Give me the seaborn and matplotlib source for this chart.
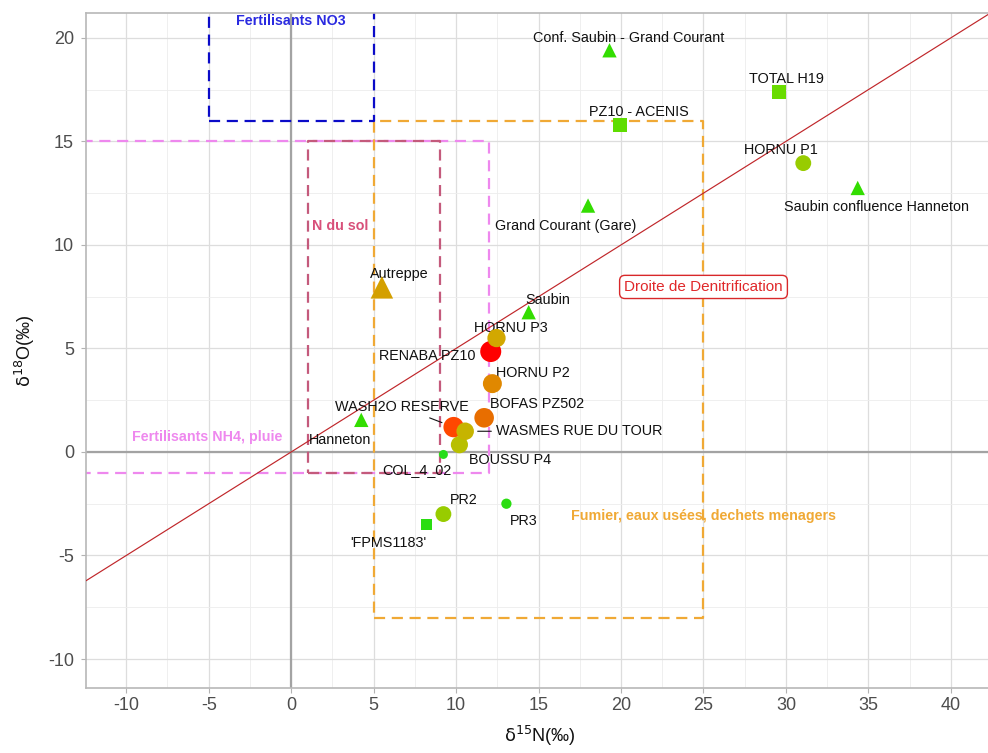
import matplotlib
matplotlib.use("Agg")
import matplotlib.pyplot as plt
from matplotlib.colors import LinearSegmentedColormap, Normalize, PowerNorm
from matplotlib.patches import Rectangle
from matplotlib.ticker import MultipleLocator
import pandas as pd
import seaborn as sns

# ---- sampling points -------------------------------------------------------
sites = ["Conf. Saubin - Grand Courant", "TOTAL H19", "PZ10 - ACENIS", "HORNU P1",
         "Saubin confluence Hanneton", "Grand Courant (Gare)", "Saubin", "Autreppe",
         "RENABA PZ10", "HORNU P3", "HORNU P2", "BOFAS PZ502", "WASH2O RESERVE",
         "BOUSSU P4", "WASMES RUE DU TOUR", "COL_4_02", "Hanneton", "PR2", "PR3",
         "'FPMS1183'"]
d15n = [19.3, 29.6, 19.95, 31.05, 34.35, 18.0, 14.4, 5.5,
        12.1, 12.45, 12.2, 11.7, 9.85, 10.2, 10.55, 9.23, 4.25, 9.23, 13.05, 8.2]
d18o = [19.4, 17.4, 15.8, 13.95, 12.75, 11.9, 6.75, 7.95,
        4.85, 5.5, 3.3, 1.65, 1.2, 0.35, 1.0, -0.12, 1.55, -3.0, -2.5, -3.5]
no3 = [8, 17, 15, 30, 8, 8, 8, 58,
       100, 55, 65, 74, 88, 42, 46, 2, 8, 30, 4, 4]
site_type = ["Eau de surface", "Forage", "Forage", "Piézomètre",
             "Eau de surface", "Eau de surface", "Eau de surface", "Eau de surface",
             "Piézomètre", "Piézomètre", "Piézomètre", "Piézomètre", "Piézomètre",
             "Piézomètre", "Piézomètre", "Piézomètre", "Eau de surface", "Piézomètre",
             "Piézomètre", "Forage"]

# ---- nitrate source domains -------------------------------------------------
domain_names = ["Fertilisants NH4, pluie", "N du sol",
                "Fumier, eaux usées, dechets menagers", "Fertilisants NO3"]
domain_x = [(-15, 12), (1, 9), (5, 25), (-5, 5)]
domain_y = [(-1, 15), (-1, 15), (-8, 16), (16, 23)]

# denitrification line: d18O = 0.5 * d15N
denit_slope = 0.5

# ---- styling ----------------------------------------------------------------
domain_style = {
    "Fertilisants NH4, pluie": dict(color="#EE88EE", label_xy=(-5.1, 0.72)),
    "N du sol": dict(color="#C45A7C", label_xy=(3.0, 10.9), text_color="#D8507A"),
    "Fumier, eaux usées, dechets menagers": dict(color="#F0A935", label_xy=(25.0, -3.1)),
    "Fertilisants NO3": dict(color="#0B0BC8", label_xy=(0.0, 20.82), text_color="#2A2AE0"),
}

# label offsets (pixels) relative to each point
label_offsets = {
    "Conf. Saubin - Grand Courant": (19, 12),
    "TOTAL H19": (7, 13),
    "PZ10 - ACENIS": (19, 13),
    "HORNU P1": (-22, 13),
    "Saubin confluence Hanneton": (19, -19),
    "Grand Courant (Gare)": (-22, -20),
    "Saubin": (19, 12),
    "Autreppe": (17, 13),
    "RENABA PZ10": (-64, -4),
    "HORNU P3": (14, 10),
    "HORNU P2": (40, 11),
    "BOFAS PZ502": (53, 14),
    "WASH2O RESERVE": (-52, 20),
    "BOUSSU P4": (51, -15),
    "WASMES RUE DU TOUR": (114, 0),
    "COL_4_02": (-27, -16),
    "Hanneton": (-21, -20),
    "PR2": (20, 14),
    "PR3": (17, -17),
    "'FPMS1183'": (-38, -19),
}
with_segment = {"WASH2O RESERVE", "WASMES RUE DU TOUR"}

nitrate_cmap = LinearSegmentedColormap.from_list(
    "nitrate",
    [(0.00, "#22DD22"), (0.08, "#33DD00"), (0.16, "#66DD00"), (0.30, "#99CC00"),
     (0.42, "#B8BF00"), (0.46, "#C6B400"), (0.55, "#D2A800"), (0.58, "#D4A000"),
     (0.65, "#E08800"), (0.74, "#E86E00"), (0.88, "#FF4800"), (1.00, "#FF0000")])
marker_map = {"Piézomètre": "o", "Forage": "s", "Eau de surface": "^"}

sns.set_theme(style="whitegrid")
plt.rcParams["font.family"] = ["Liberation Sans", "DejaVu Sans"]
plt.rcParams["mathtext.fontset"] = "dejavusans"
narrow = ["Liberation Sans Narrow", "Liberation Sans", "DejaVu Sans"]

df = pd.DataFrame({"site": sites, "d15N": d15n, "d18O": d18o,
                   "NO3": no3, "type": site_type})

fig = plt.figure(figsize=(9.88, 7.53), dpi=100)
ax = fig.add_axes([86 / 988, 65 / 753, 902 / 988, 675 / 753])
ax.set_facecolor("white")

xlim = (-12.44, 42.25)
ylim = (-11.4, 21.2)
ax.set_xlim(*xlim)
ax.set_ylim(*ylim)

# grid
ax.xaxis.set_minor_locator(MultipleLocator(2.5))
ax.yaxis.set_minor_locator(MultipleLocator(2.5))
xt = list(range(-10, 41, 5))
yt = list(range(-10, 21, 5))
ax.set_xticks(xt)
ax.set_xticklabels([str(v) for v in xt], fontfamily=narrow, fontsize=13, color="#4D4D4D")
ax.set_yticks(yt)
ax.set_yticklabels([str(v) for v in yt], fontfamily=narrow, fontsize=13, color="#4D4D4D")
ax.grid(which="major", color="#DDDDDD", lw=0.9)
ax.grid(which="minor", color="#EDEDED", lw=0.6)
ax.set_axisbelow(True)
ax.tick_params(which="major", length=3.6, width=0.8, color="#B3B3B3",
               direction="out", bottom=True, left=True)
ax.tick_params(axis="x", pad=3)
ax.tick_params(axis="y", pad=5)
ax.tick_params(which="minor", length=0)
for side in ["top", "bottom", "left"]:
    ax.spines[side].set_color("#B8B8B8")
    ax.spines[side].set_linewidth(1.2)
ax.spines["right"].set_visible(False)

# zero reference lines
ax.axvline(0, color="#A3A3A3", lw=1.6, zorder=2)
ax.axhline(0, color="#A3A3A3", lw=1.6, zorder=2)

# source domains
for name, (x0, x1), (y0, y1) in zip(domain_names, domain_x, domain_y):
    st = domain_style[name]
    ax.add_patch(Rectangle((x0, y0), x1 - x0, y1 - y0, fill=False,
                           edgecolor=st["color"], lw=1.6,
                           linestyle=(0, (5.0, 3.0)), joinstyle="round",
                           capstyle="butt", zorder=2.5))
    lx, ly = st["label_xy"]
    ax.text(lx, ly, name, color=st.get("text_color", st["color"]),
            fontsize=10.3, fontweight="bold", ha="center", va="center", zorder=1.5)

# denitrification line
ax.axline((0, 0), slope=denit_slope, color="#C0262A", lw=0.85, zorder=3)
ax.text(25.0, 7.97, "Droite de Denitrification", color="#E0282A", fontsize=11,
        ha="center", va="center", zorder=4,
        bbox=dict(boxstyle="round,pad=0.3,rounding_size=0.35", fc="white",
                  ec="#D8282A", lw=1.0))

# sampling points
hue_norm = Normalize(0, 100)
size_norm = PowerNorm(0.5, vmin=0, vmax=100)
ground = df[df["type"] != "Eau de surface"]
surface = df[df["type"] == "Eau de surface"]
sns.scatterplot(data=surface, x="d15N", y="d18O", hue="NO3", size="NO3",
                style="type", markers=marker_map, palette=nitrate_cmap,
                hue_norm=hue_norm, sizes=(15, 340), size_norm=size_norm,
                linewidth=0, legend=False, ax=ax, zorder=5)
sns.scatterplot(data=ground, x="d15N", y="d18O", hue="NO3", size="NO3",
                style="type", markers=marker_map, palette=nitrate_cmap,
                hue_norm=hue_norm, sizes=(11, 229), size_norm=size_norm,
                linewidth=0, legend=False, ax=ax, zorder=5)

# point labels
for name, x, y in zip(sites, d15n, d18o):
    dx, dy = label_offsets[name]
    kw = {}
    if name in with_segment:
        kw["arrowprops"] = dict(arrowstyle="-", color="#111111", lw=0.8,
                                shrinkA=1, shrinkB=9)
    ax.annotate(name, (x, y), xytext=(dx, dy), textcoords="offset pixels",
                ha="center", va="center", fontsize=10.4, color="#111111",
                zorder=4, **kw)

ax.set_xlabel(r"$\mathrm{\delta}^{15}$N(‰)", fontsize=13, color="#111111",
              fontfamily=narrow)
ax.set_ylabel(r"$\mathrm{\delta}^{18}$O(‰)", fontsize=13, color="#111111",
              fontfamily=narrow)
ax.xaxis.set_label_coords(0.503, -0.053)
ax.yaxis.set_label_coords(-0.054, 0.50)

fig.savefig("out.png", dpi=100)
